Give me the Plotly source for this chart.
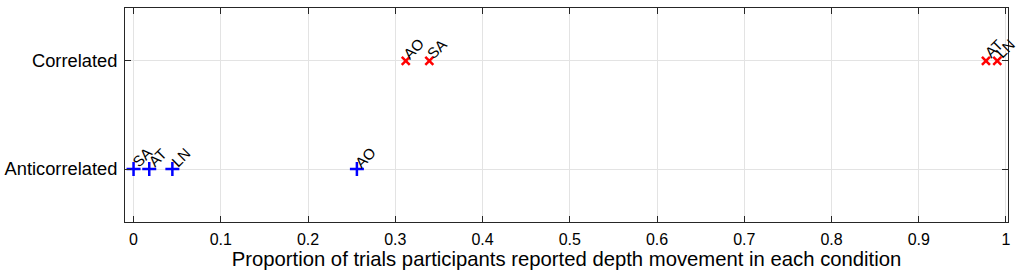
import plotly.graph_objects as go

conditions = ["Anticorrelated", "Correlated"]
participants = ["SA", "AT", "LN", "AO"]
anti_values = [0.0, 0.018, 0.0445, 0.256]
corr_participants = ["AO", "SA", "AT", "LN"]
corr_values = [0.312, 0.339, 0.977, 0.990]
x_ticks = [0, 0.1, 0.2, 0.3, 0.4, 0.5, 0.6, 0.7, 0.8, 0.9, 1]

FONT = "Liberation Sans, Arial, sans-serif"

fig = go.Figure()
fig.add_trace(go.Scatter(
    x=anti_values, y=[conditions[0]] * len(anti_values), mode="markers",
    marker=dict(symbol="cross-thin", size=10, color="#0000ff",
                line=dict(width=2.5, color="#0000ff")),
    showlegend=False, hoverinfo="skip", cliponaxis=False))
fig.add_trace(go.Scatter(
    x=corr_values, y=[conditions[1]] * len(corr_values), mode="markers",
    marker=dict(symbol="x-thin", size=8, color="#ff0000",
                line=dict(width=2.5, color="#ff0000")),
    showlegend=False, hoverinfo="skip", cliponaxis=False))

for name, v in zip(participants, anti_values):
    fig.add_annotation(x=v, y=conditions[0], text=name, showarrow=False,
                       textangle=-45, xanchor="center", yanchor="middle",
                       xshift=8, yshift=12, font=dict(family=FONT, size=15, color="black"))
for name, v in zip(corr_participants, corr_values):
    fig.add_annotation(x=v, y=conditions[1], text=name, showarrow=False,
                       textangle=-45, xanchor="center", yanchor="middle",
                       xshift=8, yshift=12, font=dict(family=FONT, size=15, color="black"))

fig.update_layout(
    width=1021, height=278,
    margin=dict(l=125, r=13, t=8, b=56, autoexpand=False),
    paper_bgcolor="white", plot_bgcolor="white",
    font=dict(family=FONT, size=16, color="black"),
)
fig.update_xaxes(
    range=[-0.0098, 1.0023], tickvals=x_ticks, ticktext=[f"{t:g}" for t in x_ticks],
    showgrid=True, gridcolor="#e3e3e3", gridwidth=1, zeroline=False,
    showline=True, linecolor="#262626", linewidth=1, mirror="ticks",
    ticks="inside", ticklen=6, tickcolor="#262626", automargin=False,
    title=dict(text="Proportion of trials participants reported depth movement in each condition",
               font=dict(size=20.3), standoff=4),
    tickfont=dict(size=16), ticklabelstandoff=3,
)
fig.update_yaxes(
    type="category", categoryorder="array", categoryarray=conditions,
    range=[-0.49, 1.49], automargin=False,
    showgrid=True, gridcolor="#e3e3e3", gridwidth=1, zeroline=False,
    showline=True, linecolor="#262626", linewidth=1, mirror="ticks",
    ticks="inside", ticklen=6, tickcolor="#262626",
    tickfont=dict(size=18.3), ticklabelstandoff=3,
)

fig.write_html("out.html", config={"displayModeBar": False},
               post_script="document.body.style.margin='0';document.body.style.overflow='hidden';")
